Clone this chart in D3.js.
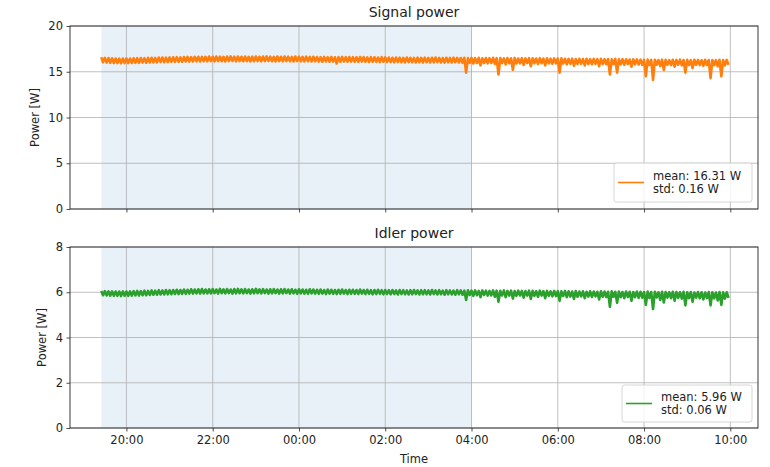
<!DOCTYPE html>
<html><head><meta charset="utf-8">
<script src="https://cdn.jsdelivr.net/npm/d3@7"></script>
<style>body{margin:0;background:#fff}svg{display:block;font-family:"DejaVu Sans",sans-serif}</style>
</head><body><svg id="c" width="770" height="467"></svg>
<script>
// ---- data ----
// each 5-minute bin holds two readings: a high one at the bin start and a low one 2.5 min later
const startTime = "2021-01-01T19:25:00";
const stepMinutes = 5;
const shadeStart = "2021-01-01T19:25:00";
const shadeEnd = "2021-01-02T04:00:00";
const xTickLabels = ["20:00","22:00","00:00","02:00","04:00","06:00","08:00","10:00"];
const signalTicks = [0,5,10,15,20];
const idlerTicks = [0,2,4,6,8];
const signalHigh = [
16.58,16.52,16.50,16.47,16.44,16.43,16.45,16.46,16.44,16.47,
16.48,16.50,16.49,16.52,16.53,16.51,16.55,16.56,16.54,16.57,
16.58,16.60,16.57,16.61,16.62,16.60,16.63,16.64,16.62,16.63,
16.66,16.64,16.67,16.65,16.63,16.66,16.68,16.65,16.67,16.64,
16.66,16.63,16.65,16.67,16.64,16.66,16.68,16.65,16.63,16.66,
16.64,16.67,16.65,16.62,16.66,16.64,16.63,16.65,16.62,16.64,
16.61,16.60,16.62,16.59,16.61,16.58,16.60,16.62,16.59,16.61,
16.60,16.58,16.61,16.59,16.57,16.60,16.58,16.56,16.59,16.57,
16.55,16.53,16.56,16.54,16.52,16.55,16.53,16.51,16.54,16.52,
16.54,16.51,16.53,16.55,16.52,16.50,16.53,16.51,16.54,16.52,
16.50,16.53,16.49,16.51,16.48,16.52,16.47,16.50,16.49,16.52,
16.48,16.50,16.46,16.49,16.47,16.51,16.45,16.48,16.46,16.49,
16.47,16.44,16.48,16.45,16.47,16.43,16.46,16.44,16.47,16.42,
16.40,16.43,16.38,16.41,16.39,16.42,16.37,16.40,16.38,16.41,
16.37,16.39,16.36,16.40,16.35,16.38,16.36,16.34,16.37,16.35,
16.32,16.30,16.33,16.29,16.31,16.28,16.32,16.30,16.27,16.31,
16.29,16.32,16.28,16.30,16.27,16.31,16.29,16.26,16.30,16.28,
16.29,16.27,16.30,16.28,16.29
];
const signalLow = [
16.04,16.00,15.98,15.96,15.95,15.93,15.94,15.95,15.96,15.97,
15.98,16.00,15.99,16.02,16.03,16.02,16.05,16.04,16.06,16.08,
16.08,16.10,16.09,16.12,16.11,16.13,16.14,16.12,16.15,16.14,
16.16,16.14,16.17,16.15,16.13,16.16,16.18,16.14,16.17,16.15,
16.16,16.13,16.15,16.17,16.14,16.16,16.18,16.15,16.13,16.16,
16.14,16.17,16.15,16.12,16.16,16.14,16.13,16.15,16.12,16.14,
16.11,16.10,16.12,16.09,16.11,15.90,16.10,16.12,16.09,16.11,
16.10,16.08,16.11,16.09,16.07,16.10,16.08,16.06,16.09,16.07,
16.05,16.03,16.06,16.04,16.02,16.05,16.03,16.01,16.04,16.02,
16.04,16.01,16.03,16.05,16.02,16.00,16.03,16.01,16.04,16.02,
15.98,14.90,15.97,15.90,15.96,15.70,15.95,15.92,15.96,15.85,
14.70,15.94,15.80,15.93,15.20,15.90,15.92,15.75,15.94,15.60,
15.92,15.85,15.93,15.70,15.91,15.88,15.92,14.90,15.89,15.80,
15.86,15.65,15.84,15.87,15.70,15.85,15.82,15.86,15.60,15.84,
15.82,14.70,15.85,14.90,15.80,15.75,15.83,15.55,15.81,15.78,
15.76,14.50,15.74,14.10,15.77,15.60,15.20,15.75,15.73,15.55,
15.75,15.70,14.90,15.74,15.40,15.76,15.72,15.65,15.74,14.30,
15.73,15.60,14.50,15.70,15.75
];
const idlerHigh = [
6.06,6.05,6.04,6.04,6.03,6.03,6.04,6.03,6.04,6.05,
6.06,6.05,6.07,6.06,6.08,6.07,6.09,6.08,6.10,6.09,
6.10,6.11,6.10,6.12,6.11,6.13,6.12,6.13,6.14,6.12,
6.13,6.14,6.12,6.15,6.13,6.14,6.12,6.14,6.15,6.13,
6.14,6.12,6.13,6.15,6.13,6.14,6.12,6.13,6.14,6.12,
6.13,6.14,6.12,6.13,6.11,6.13,6.12,6.11,6.13,6.12,
6.11,6.12,6.10,6.12,6.11,6.10,6.11,6.12,6.10,6.11,
6.11,6.10,6.12,6.10,6.11,6.09,6.10,6.11,6.09,6.10,
6.09,6.10,6.08,6.10,6.09,6.08,6.09,6.10,6.08,6.09,
6.09,6.08,6.10,6.08,6.09,6.07,6.09,6.08,6.07,6.09,
6.08,6.07,6.09,6.07,6.08,6.06,6.08,6.07,6.06,6.08,
6.07,6.06,6.08,6.06,6.07,6.05,6.07,6.06,6.05,6.07,
6.06,6.05,6.07,6.05,6.06,6.04,6.06,6.05,6.04,6.06,
6.04,6.03,6.05,6.03,6.04,6.02,6.04,6.03,6.02,6.04,
6.03,6.02,6.04,6.02,6.03,6.01,6.03,6.02,6.01,6.03,
6.02,6.01,6.03,6.01,6.02,6.00,6.02,6.01,6.00,6.02,
6.01,6.00,6.02,6.00,6.01,5.99,6.01,6.00,5.99,6.01,
6.00,5.99,6.01,6.00,6.00
];
const idlerLow = [
5.87,5.86,5.85,5.84,5.84,5.83,5.84,5.84,5.85,5.86,
5.86,5.87,5.87,5.88,5.89,5.89,5.90,5.90,5.91,5.91,
5.92,5.92,5.93,5.93,5.94,5.94,5.95,5.94,5.95,5.95,
5.95,5.96,5.94,5.96,5.95,5.96,5.94,5.95,5.96,5.95,
5.96,5.94,5.95,5.96,5.95,5.96,5.94,5.95,5.96,5.94,
5.95,5.96,5.94,5.95,5.93,5.95,5.94,5.93,5.95,5.94,
5.93,5.94,5.92,5.94,5.93,5.92,5.93,5.94,5.92,5.93,
5.93,5.92,5.94,5.92,5.93,5.91,5.92,5.93,5.91,5.92,
5.91,5.92,5.90,5.92,5.91,5.90,5.91,5.92,5.90,5.91,
5.91,5.90,5.92,5.90,5.91,5.89,5.91,5.90,5.89,5.91,
5.89,5.66,5.88,5.84,5.87,5.78,5.88,5.85,5.86,5.80,
5.58,5.86,5.78,5.85,5.72,5.84,5.86,5.76,5.85,5.70,
5.84,5.80,5.85,5.74,5.84,5.82,5.83,5.62,5.83,5.78,
5.81,5.70,5.80,5.82,5.74,5.81,5.79,5.82,5.68,5.80,
5.79,5.35,5.80,5.53,5.78,5.74,5.79,5.62,5.78,5.75,
5.76,5.44,5.75,5.26,5.77,5.66,5.55,5.76,5.74,5.62,
5.75,5.72,5.42,5.74,5.58,5.76,5.73,5.68,5.74,5.42,
5.73,5.64,5.44,5.72,5.75
];
const panels = [
  {title:"Signal power", high:signalHigh, low:signalLow, ticks:signalTicks, color:"#ff7f0e", legend:["mean: 16.31 W","std: 0.16 W"]},
  {title:"Idler power", high:idlerHigh, low:idlerLow, ticks:idlerTicks, color:"#2ca02c", legend:["mean: 5.96 W","std: 0.06 W"]}
];

// ---- layout ----
const svg = d3.select("#c");
const L = 70, R = 758;
const boxes = [{top:26,bottom:209,labelX:35, legend:{x:614,y:163,w:138,h:39}},
               {top:247,bottom:428,labelX:42, legend:{x:622,y:385,w:130,h:37}}];
const parse = d3.isoParse;
const t0 = parse(startTime);
const MIN = 60000;
const times = signalHigh.map((_, i) => new Date(+t0 + i*stepMinutes*MIN));
const tMin = times[0], tMax = times[times.length-1];
const pad = (tMax - tMin)*0.05;
const x = d3.scaleTime().domain([new Date(+tMin - pad), new Date(+tMax + pad)]).range([L, R]);
const tickDates = xTickLabels.map(s => {
  const [h,m] = s.split(":").map(Number);
  const d = new Date(+t0); d.setHours(h, m, 0, 0);
  if (h < 12) d.setDate(d.getDate()+1);
  return d;
});
const fmt = d3.timeFormat("%H:%M");

panels.forEach((p, k) => {
  const b = boxes[k];
  const ymax = p.ticks[p.ticks.length-1];
  const y = d3.scaleLinear().domain([0, ymax]).range([b.bottom, b.top]);
  const g = svg.append("g");
  // shading
  g.append("rect").attr("x", x(parse(shadeStart))).attr("y", b.top)
    .attr("width", x(parse(shadeEnd)) - x(parse(shadeStart))).attr("height", b.bottom - b.top)
    .attr("fill", "#1f77b4").attr("fill-opacity", 0.1);
  // grid
  g.append("g").selectAll("line").data(tickDates).join("line")
    .attr("x1", d => x(d)).attr("x2", d => x(d)).attr("y1", b.top).attr("y2", b.bottom)
    .attr("stroke", "#b0b0b0").attr("stroke-width", 0.8);
  g.append("g").selectAll("line").data(p.ticks).join("line")
    .attr("x1", L).attr("x2", R).attr("y1", d => y(d)).attr("y2", d => y(d))
    .attr("stroke", "#b0b0b0").attr("stroke-width", 0.8);
  // line: readings in time order
  const pts = [];
  times.forEach((t, i) => {
    pts.push([t, p.high[i]]);
    pts.push([new Date(+t + stepMinutes/2*MIN), p.low[i]]);
  });
  const line = d3.line().x(d => x(d[0])).y(d => y(d[1]));
  g.append("path").datum(pts).attr("d", line).attr("fill", "none")
    .attr("stroke", p.color).attr("stroke-width", 2.6).attr("stroke-linejoin", "round");
  // axes
  const xa = d3.axisBottom(x).tickValues(tickDates).tickFormat(k === 1 ? fmt : () => "").tickSize(3.5).tickPadding(4);
  const gx = g.append("g").attr("transform", `translate(0,${b.bottom})`).call(xa);
  const ya = d3.axisLeft(y).tickValues(p.ticks).tickSize(3.5).tickPadding(3.5);
  const gy = g.append("g").attr("transform", `translate(${L},0)`).call(ya);
  [gx, gy].forEach(a => {
    a.select(".domain").remove();
    a.selectAll("text").attr("font-size", 11.5).attr("fill", "#222").attr("font-family", "DejaVu Sans");
    a.selectAll("line").attr("stroke", "#222").attr("stroke-width", 0.8);
  });
  // frame
  g.append("rect").attr("x", L).attr("y", b.top).attr("width", R - L).attr("height", b.bottom - b.top)
    .attr("fill", "none").attr("stroke", "#222").attr("stroke-width", 0.9);
  // title
  g.append("text").attr("x", (L+R)/2).attr("y", b.top - 9).attr("text-anchor", "middle")
    .attr("font-size", 14).attr("fill", "#222").text(p.title);
  // y label
  g.append("text").attr("transform", `translate(${b.labelX},${(b.top+b.bottom)/2}) rotate(-90)`)
    .attr("text-anchor", "middle").attr("dominant-baseline", "central")
    .attr("font-size", 11.5).attr("fill", "#222").text("Power [W]");
  // legend
  const lg = b.legend;
  g.append("rect").attr("x", lg.x).attr("y", lg.y).attr("width", lg.w).attr("height", lg.h)
    .attr("rx", 2.5).attr("fill", "#fff").attr("fill-opacity", 0.8).attr("stroke", "#cccccc").attr("stroke-width", 0.8);
  g.append("line").attr("x1", lg.x + 4).attr("x2", lg.x + 30).attr("y1", lg.y + lg.h/2).attr("y2", lg.y + lg.h/2)
    .attr("stroke", p.color).attr("stroke-width", 1.6);
  g.append("g").selectAll("text").data(p.legend).join("text")
    .attr("x", lg.x + 39).attr("y", (d, i) => lg.y + lg.h/2 + (i === 0 ? -6.5 : 6.5))
    .attr("dominant-baseline", "central").attr("font-size", 11.5).attr("fill", "#222").text(d => d);
});
svg.append("text").attr("x", (L+R)/2).attr("y", 463).attr("text-anchor", "middle")
  .attr("font-size", 11.5).attr("fill", "#222").text("Time");
</script></body></html>
